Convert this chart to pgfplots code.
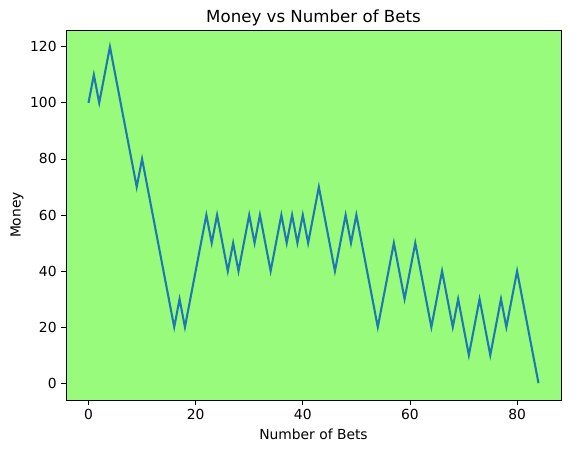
\documentclass[border=0pt]{standalone}
\usepackage{pgfplots}
\pgfplotsset{compat=1.18}
\usepackage{fontspec}
\setmainfont{DejaVu Sans}
\definecolor{bg}{RGB}{152,251,123}
\definecolor{cz}{HTML}{1F77B4}
\begin{document}
\begin{tikzpicture}
\useasboundingbox (-66bp,-53bp) rectangle (505bp,400bp);
\begin{axis}[
  scale only axis, width=495bp, height=370bp, at={(0,0)}, anchor=south west,
  xmin=-4.2, xmax=88.2, ymin=-6, ymax=126,
  xtick={0,20,40,60,80}, ytick={0,20,40,60,80,100,120},
  axis background/.style={fill=bg},
  axis line style={line width=0.85bp},
  every tick/.style={black, line width=0.85bp},
  tick align=outside, major tick length=4.9bp,
  xtick pos=left, ytick pos=left,
  /pgf/number format/assume math mode=true,
  ticklabel style={font=\fontsize{13.9}{16}\selectfont},
  xticklabel style={yshift=-1bp},
  yticklabel style={xshift=-1bp},
  xlabel={Number of Bets}, ylabel={Money},
  label style={font=\fontsize{13.9}{16}\selectfont},
  xlabel style={at={(axis description cs:0.5,-0.108)}, anchor=base},
  ylabel style={at={(axis description cs:-0.099,0.5)}, anchor=center},
  every axis title shift=0pt,
  title={Money vs Number of Bets},
  title style={font=\fontsize{16.7}{20}\selectfont, at={(axis description cs:0.5,1.0197)}, anchor=base},
]
\addplot[cz, line width=2.08bp] coordinates {
(0,100)(1,110)(2,100)(3,110)(4,120)(5,110)(6,100)(7,90)(8,80)(9,70)
(10,80)(11,70)(12,60)(13,50)(14,40)(15,30)(16,20)(17,30)(18,20)(19,30)
(20,40)(21,50)(22,60)(23,50)(24,60)(25,50)(26,40)(27,50)(28,40)(29,50)
(30,60)(31,50)(32,60)(33,50)(34,40)(35,50)(36,60)(37,50)(38,60)(39,50)
(40,60)(41,50)(42,60)(43,70)(44,60)(45,50)(46,40)(47,50)(48,60)(49,50)
(50,60)(51,50)(52,40)(53,30)(54,20)(55,30)(56,40)(57,50)(58,40)(59,30)
(60,40)(61,50)(62,40)(63,30)(64,20)(65,30)(66,40)(67,30)(68,20)(69,30)
(70,20)(71,10)(72,20)(73,30)(74,20)(75,10)(76,20)(77,30)(78,20)(79,30)
(80,40)(81,30)(82,20)(83,10)(84,0)
};
\end{axis}
\end{tikzpicture}
\end{document}
